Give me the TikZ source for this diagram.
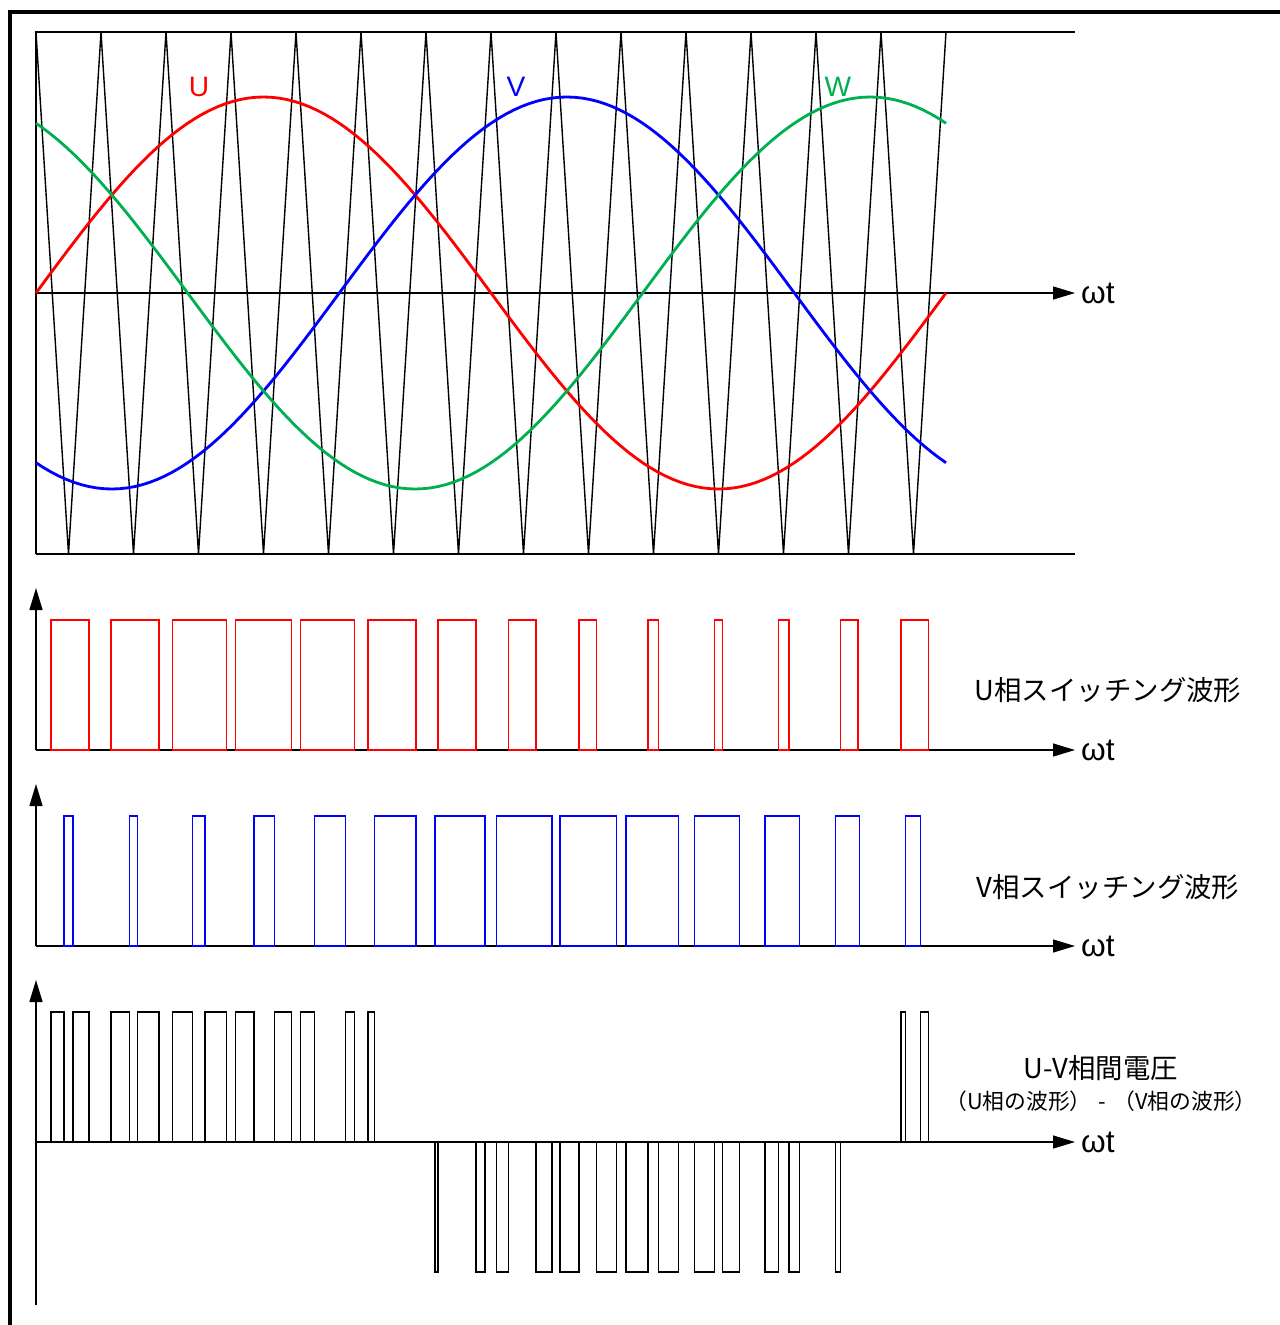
\documentclass[tikz,border=0pt]{standalone}
\usepackage{fontspec}
\setmainfont{Liberation Sans}
\newfontfamily\jpfont{Noto Sans CJK JP}
\usetikzlibrary{arrows.meta}
\definecolor{ured}{RGB}{255,0,0}
\definecolor{vblue}{RGB}{0,0,255}
\definecolor{wgreen}{RGB}{0,176,80}
\tikzset{
	axis/.style={line width=0.75pt, -{Triangle[length=0.44cm,width=0.26cm]}},
	thinline/.style={line width=0.8pt},
	wave/.style={line width=1.6pt},
	pulse/.style={line width=0.85pt},
	lbl/.style={font=\fontsize{16}{19}\selectfont},
	wtlbl/.style={font=\fontsize{18}{21}\selectfont},
	jplbl/.style={font=\jpfont\fontsize{15.6}{19}\selectfont},
	jpsmall/.style={font=\jpfont\fontsize{12.4}{15}\selectfont},
	declare function={refw(\xx,\ph)=0.751*sin(0.395604*(\xx-36)+\ph);}
}
\begin{document}
\begin{tikzpicture}[x=0.02cm, y=-0.02cm]
		\useasboundingbox (0,0) rectangle (1279,1325);
		% Draw frame
		\draw[line width=2.2pt] (10,1326) -- (10,12) -- (1280,12);

		% Draw carrier box
		\draw[thinline] (36,554) -- (36,32) -- (1075,32);
		\draw[thinline] (36,554) -- (1075,554);

		% Draw axes
		\coordinate (o1) at (36,293);
		\coordinate (e1) at (1075,293);
		\coordinate (o2) at (36,750);
		\coordinate (e2) at (1075,750);
		\coordinate (t2) at (36,588);
		\coordinate (o3) at (36,946);
		\coordinate (e3) at (1075,946);
		\coordinate (t3) at (36,784);
		\coordinate (o4) at (36,1142);
		\coordinate (e4) at (1075,1142);
		\coordinate (b4) at (36,1305);
		\coordinate (t4) at (36,980);
		\draw[axis] (o1) -- (e1);
		\draw[axis] (o2) -- (e2);
		\draw[axis] (o2) -- (t2);
		\draw[axis] (o3) -- (e3);
		\draw[axis] (o3) -- (t3);
		\draw[axis] (o4) -- (e4);
		\draw[axis] (b4) -- (t4);
		\node[wtlbl, right] (wt1) at (e1) {ωt};
		\node[wtlbl, right] (wt2) at (e2) {ωt};
		\node[wtlbl, right] (wt3) at (e3) {ωt};
		\node[wtlbl, right] (wt4) at (e4) {ωt};

		% Draw carrier
		\draw[thinline] (36,32) \foreach \k in {0,...,13} { -- ({68.5+65*\k},554) -- ({101+65*\k},32) };

		% Draw reference waves
		\draw[wave, ured] plot[domain=0:360, samples=121] ({36+2.52778*\x}, {293-196*sin(\x)});
		\draw[wave, vblue] plot[domain=0:360, samples=121] ({36+2.52778*\x}, {293-196*sin(\x-120)});
		\draw[wave, wgreen] plot[domain=0:360, samples=121] ({36+2.52778*\x}, {293-196*sin(\x+120)});
		\node[lbl, ured] (ulab) at (199,87) {U};
		\node[lbl, vblue] (vlab) at (516,87) {V};
		\node[lbl, wgreen] (wlab) at (838,87) {W};

		% Draw switching pulses
		\foreach \k in {0,...,13} {
			\pgfmathsetmacro\xa{36+65*\k}
			\pgfmathsetmacro\ua{\xa+16.25*(1-refw(\xa+16.25,0))}
			\pgfmathsetmacro\ua{\xa+16.25*(1-refw(\ua,0))}
			\pgfmathsetmacro\ub{\xa+48.75+16.25*refw(\xa+48.75,0)}
			\pgfmathsetmacro\ub{\xa+48.75+16.25*refw(\ub,0)}
			\pgfmathsetmacro\va{\xa+16.25*(1-refw(\xa+16.25,-120))}
			\pgfmathsetmacro\va{\xa+16.25*(1-refw(\va,-120))}
			\pgfmathsetmacro\vb{\xa+48.75+16.25*refw(\xa+48.75,-120)}
			\pgfmathsetmacro\vb{\xa+48.75+16.25*refw(\vb,-120)}
			\draw[pulse, ured] (\ua,750) rectangle (\ub,620);
			\draw[pulse, vblue] (\va,946) rectangle (\vb,816);
			\pgfmathsetmacro\wa{abs(\va-\ua)}
			\pgfmathsetmacro\wb{abs(\vb-\ub)}
			\ifdim\wa pt>2.5pt
				\draw[pulse] ({min(\ua,\va)},1142) rectangle ({max(\ua,\va)},{1142-130*sign(\va-\ua)});
			\fi
			\ifdim\wb pt>2.5pt
				\draw[pulse] ({min(\ub,\vb)},1142) rectangle ({max(\ub,\vb)},{1142-130*sign(\ub-\vb)});
			\fi
		}

		% Labels
		\node[jplbl] (ulbl) at (1108,690) {U相スイッチング波形};
		\node[jplbl] (vlbl) at (1108,887) {V相スイッチング波形};
		\node[jplbl] (uvlbl) at (1101,1068) {U-V相間電圧};
		\node[jpsmall] (uvsub) at (1101,1101) {（U相の波形）\makebox[1em]{-}（V相の波形）};
	\end{tikzpicture}
\end{document}
